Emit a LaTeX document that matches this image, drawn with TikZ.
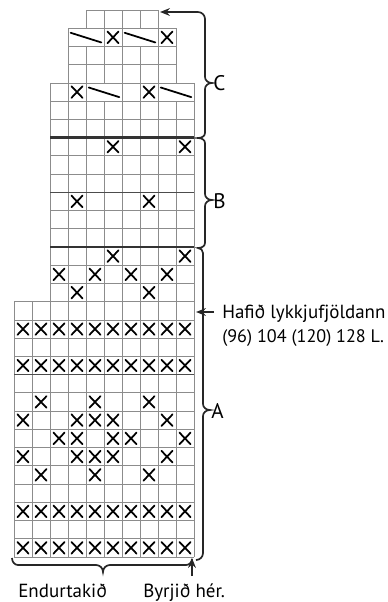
\documentclass[tikz,border=0pt]{standalone}
\usepackage{fontspec}
\setmainfont{PT Sans}
\usetikzlibrary{arrows.meta}
\tikzset{
  gridline/.style={draw=black!45, line width=0.55pt},
  xmark/.style={line width=1.25pt, black, line cap=round},
  slashmark/.style={line width=1.25pt, black, line cap=round},
  thickrule/.style={line width=1.9pt, black!80},
  midrule/.style={line width=1pt, black!70},
  bline/.style={line width=1.2pt, black!85},
  lab/.style={inner sep=0pt, font=\fontsize{13.5}{16}\selectfont},
  smlab/.style={inner sep=0pt, font=\fontsize{12.9}{16}\selectfont},
  biglab/.style={inner sep=0pt, font=\fontsize{15}{17}\selectfont},
  tip/.style={-{Stealth[length=7pt,width=5.5pt]}},
}
\newcommand\xm[2]{\draw[xmark] (#1+0.19,#2+0.18) -- (#1+0.81,#2+0.82) (#1+0.81,#2+0.18) -- (#1+0.19,#2+0.82);}
\newcommand\sm[2]{\draw[slashmark] (#1+0.15,#2+0.25) -- (#1+1.85,#2+0.78);}
\begin{document}
\begin{tikzpicture}[x=0.25mm, y=-0.25mm]
\useasboundingbox (0,0) rectangle (388,602);
\begin{scope}[shift={(14,10)}, x=4.5mm, y=-4.5575mm]
  % horizontal grid lines
  \draw[gridline] (4,0) -- (8,0);
  \foreach \r in {1,2,3} {\draw[gridline] (3,\r) -- (9,\r);}
  \foreach \r in {4,...,15} {\draw[gridline] (2,\r) -- (10,\r);}
  \foreach \r in {16,...,30} {\draw[gridline] (0,\r) -- (10,\r);}
  % vertical grid lines
  \foreach \c in {4,...,8} {\draw[gridline] (\c,0) -- (\c,1);}
  \foreach \c in {3,5,6,8,9} {\draw[gridline] (\c,1) -- (\c,2);}
  \foreach \c in {3,...,9} {\draw[gridline] (\c,2) -- (\c,4);}
  \foreach \c in {2,3,4,6,7,8,10} {\draw[gridline] (\c,4) -- (\c,5);}
  \foreach \c in {2,...,10} {\draw[gridline] (\c,5) -- (\c,16);}
  \foreach \c in {0,...,10} {\draw[gridline] (\c,16) -- (\c,30);}
  % rules
  \draw[thickrule] (2,7) -- (10,7);
  \draw[thickrule] (2,13) -- (10,13);
  \draw[midrule] (2,10) -- (10,10);
  \draw[midrule] (0,20) -- (10,20);
  % section C
  \sm{3}{1} \xm{5}{1} \sm{6}{1} \xm{8}{1}
  \xm{3}{4} \sm{4}{4} \xm{7}{4} \sm{8}{4}
  % section B
  \xm{5}{7} \xm{9}{7}
  \xm{3}{10} \xm{7}{10}
  % section A
  \xm{5}{13} \xm{9}{13}
  \foreach \c in {2,4,6,8} {\xm{\c}{14}}
  \xm{3}{15} \xm{7}{15}
  \foreach \r in {17,19,27,29} {\foreach \c in {0,...,9} {\xm{\c}{\r}}}
  \foreach \r in {21,25} {\foreach \c in {1,4,7} {\xm{\c}{\r}}}
  \foreach \r in {22,24} {\foreach \c in {0,3,4,5,8} {\xm{\c}{\r}}}
  \foreach \c in {2,3,5,6,9} {\xm{\c}{23}}
\end{scope}
% right-hand braces
\coordinate (ctop) at (160,12);
\coordinate (hafa) at (196,312);
\coordinate (byrj) at (192,558);
\draw[bline, tip, rounded corners=5pt] (205,30) -- (205,12) -- (ctop);
\draw[bline] (205,30) -- (205,77) to[out=-90,in=180] (212,83) to[out=180,in=90] (205,89)
  -- (205,133) to[out=-90,in=0] (198,138) to[out=0,in=90] (205,143)
  -- (205,194) to[out=-90,in=180] (212,200) to[out=180,in=90] (205,206)
  -- (205,243) to[out=-90,in=0] (198,248) to[out=0,in=90] (203,253)
  -- (203,404) to[out=-90,in=180] (210,410) to[out=180,in=90] (203,416)
  -- (203,553) to[out=-90,in=0] (196,560);
% bottom brace
\draw[bline] (12,558) to[out=-90,in=180] (18,565) -- (96,565) to[out=0,in=90] (103,572)
  to[out=90,in=180] (110,565) -- (186,565) to[out=0,in=-90] (192,559);
% arrows
\draw[bline, tip] (214,312) -- (hafa);
\draw[bline, tip] (192,576) -- (byrj);
% labels
\node[biglab, anchor=west] (labC) at (213,83) {C};
\node[biglab, anchor=west] (labB) at (213,201) {B};
\node[biglab, anchor=west] (labA) at (211,411) {A};
\node[lab, anchor=base west] (haf1) at (222,318) {Hafið lykkjufjöldann};
\node[smlab, anchor=base west] (haf2) at (222,342) {(96) 104 (120) 128 L.};
\node[lab, anchor=base west] (endur) at (18,597) {Endurtakið};
\node[lab, anchor=base west] (byrjid) at (143,597) {Byrjið hér.};
\end{tikzpicture}
\end{document}
